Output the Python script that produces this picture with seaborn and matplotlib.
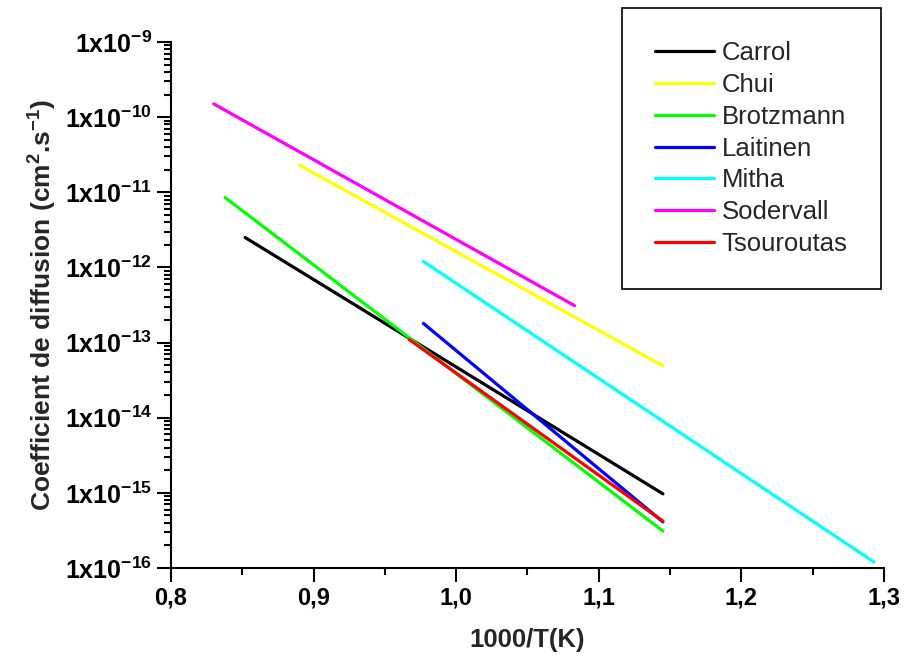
import numpy as np
import pandas as pd
import matplotlib
matplotlib.use("Agg")
import matplotlib.pyplot as plt
from matplotlib.ticker import FuncFormatter, LogLocator, NullFormatter, MultipleLocator
import seaborn as sns

# Arrhenius diffusion lines: end points of each author's fit
authors = ["Carrol", "Chui", "Brotzmann", "Laitinen", "Mitha", "Sodervall", "Tsouroutas"]
colors = ["#000000", "#FFFF00", "#00FF00", "#0000FF", "#00FFFF", "#FF00FF", "#FF0000"]
x_start = [0.852, 0.890, 0.838, 0.977, 0.977, 0.830, 0.967]
x_end = [1.145, 1.145, 1.145, 1.145, 1.293, 1.083, 1.145]
d_start = [2.5e-12, 2.3e-11, 8.5e-12, 1.8e-13, 1.2e-12, 1.5e-10, 1.1e-13]
d_end = [9.7e-16, 4.9e-14, 3.1e-16, 4.1e-16, 1.2e-16, 3.1e-13, 4.2e-16]

rows = []
for name, xs, xe, ds, de in zip(authors, x_start, x_end, d_start, d_end):
    rows.append({"invT": xs, "D": ds, "source": name})
    rows.append({"invT": xe, "D": de, "source": name})
df = pd.DataFrame(rows)

sns.set_style("white")
plt.rcParams["font.family"] = ["Liberation Sans", "DejaVu Sans"]
plt.rcParams["font.weight"] = "bold"
plt.rcParams["mathtext.fontset"] = "custom"
plt.rcParams["mathtext.rm"] = "Liberation Sans:bold"
plt.rcParams["mathtext.it"] = "Liberation Sans:bold"
plt.rcParams["mathtext.bf"] = "Liberation Sans:bold"
plt.rcParams["mathtext.sf"] = "Liberation Sans:bold"
plt.rcParams["mathtext.default"] = "rm"

fig, ax = plt.subplots(figsize=(9.06, 6.6), dpi=100)
fig.subplots_adjust(left=0.1887, right=0.9757, bottom=0.1394, top=0.9364)

sns.lineplot(data=df, x="invT", y="D", hue="source", hue_order=authors,
             palette=dict(zip(authors, colors)), linewidth=2.3, sort=False,
             estimator=None, ax=ax)

ax.set_yscale("log")
ax.set_xlim(0.8, 1.3)
ax.set_ylim(1e-16, 1e-9)

ax.yaxis.set_major_locator(LogLocator(base=10, numticks=20))
ax.yaxis.set_minor_locator(LogLocator(base=10, subs=np.arange(2, 10), numticks=100))
ax.yaxis.set_minor_formatter(NullFormatter())
ax.yaxis.set_major_formatter(FuncFormatter(
    lambda v, p: f"1x10$^{{{int(round(np.log10(v)))}}}$"))
ax.xaxis.set_major_locator(MultipleLocator(0.1))
ax.xaxis.set_minor_locator(MultipleLocator(0.05))
ax.xaxis.set_major_formatter(FuncFormatter(lambda v, p: f"{v:.1f}".replace(".", ",")))

ax.tick_params(which="major", direction="out", length=10, width=1.5,
               color="black", labelcolor="black", left=True, bottom=True)
ax.tick_params(axis="y", which="major", labelsize=18)
ax.tick_params(axis="x", which="major", labelsize=17)
ax.tick_params(which="minor", direction="out", length=5, width=1.5,
               color="black", left=True, bottom=True)
for side in ["top", "right"]:
    ax.spines[side].set_visible(False)
for side in ["left", "bottom"]:
    ax.spines[side].set_color("black")
    ax.spines[side].set_linewidth(1.5)

ax.set_xlabel("1000/T(K)", fontsize=18.5, fontweight="bold", labelpad=13)
ax.set_ylabel("Coefficient de diffusion (cm$^{2}$.s$^{-1}$)", fontsize=19,
              fontweight="bold", labelpad=4)

handles, labels = ax.get_legend_handles_labels()
ax.get_legend().remove()
leg = ax.legend(handles, labels, loc="upper right",
                bbox_to_anchor=(881 / 906, 1 - 8 / 660),
                bbox_transform=fig.transFigure, borderaxespad=0,
                prop={"size": 18.5, "weight": "normal"},
                frameon=True, fancybox=False, shadow=False, framealpha=1,
                edgecolor="black", handlelength=2.3, handletextpad=0.3,
                labelspacing=0.3, borderpad=1.3)
leg.get_frame().set_linewidth(1.2)
for h in leg.get_lines():
    h.set_linewidth(2.3)

fig.savefig("out.png", dpi=100)
